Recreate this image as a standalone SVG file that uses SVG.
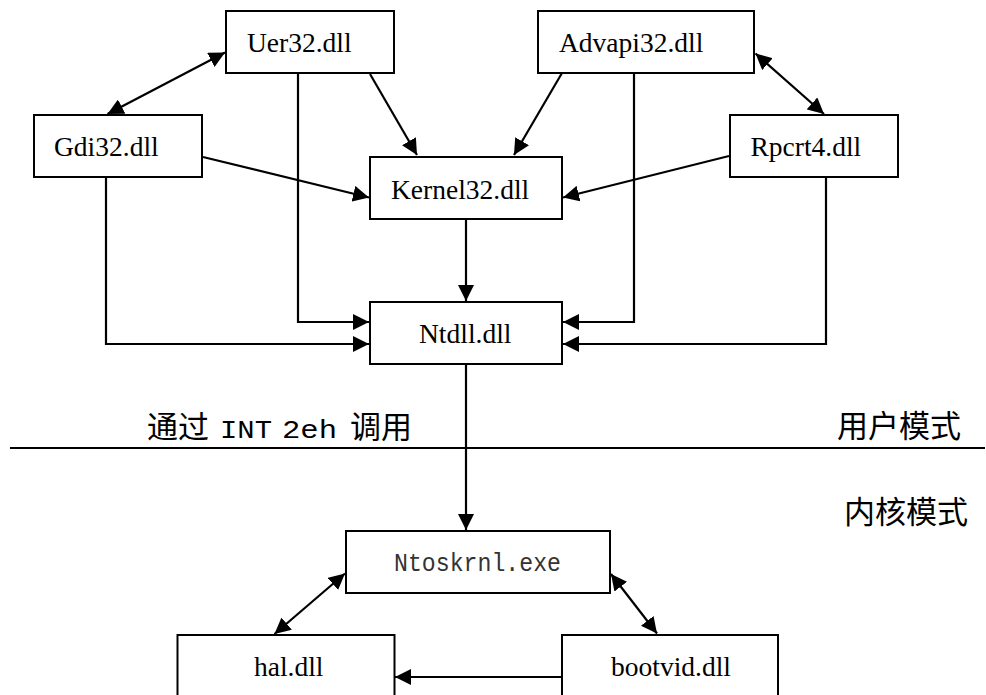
<svg xmlns="http://www.w3.org/2000/svg" width="986" height="695" viewBox="0 0 986 695">
<defs>
<style>
.box{fill:#fff;stroke:#000;stroke-width:2}
.lbl{font-family:"Liberation Serif","Times New Roman",serif;font-size:27.5px;fill:#000}
.mono{font-family:"Liberation Mono","Noto Sans CJK SC",monospace;fill:#333}
.cjk{font-family:"Noto Sans CJK SC",sans-serif;font-size:31px;fill:#000}
.ln{fill:none;stroke:#000;stroke-width:2.2}
.a{marker-end:url(#ah)}
.d{marker-end:url(#ah);marker-start:url(#ah)}
</style>
<marker id="ah" markerUnits="userSpaceOnUse" markerWidth="17" markerHeight="16" refX="16" refY="8" orient="auto-start-reverse" viewBox="0 0 17 16">
<path d="M0,0 L16,8 L0,16 z" fill="#000"/>
</marker>
</defs>
<g id="connectors">
<line class="ln d" x1="225" y1="52.5" x2="107.5" y2="114"/>
<line class="ln a" x1="370" y1="74" x2="417" y2="155"/>
<polyline class="ln a" points="298,73 298,322 369,322"/>
<line class="ln a" x1="203" y1="157" x2="369" y2="197.5"/>
<polyline class="ln a" points="106,177 106,344 369,344"/>
<line class="ln a" x1="466" y1="219" x2="466" y2="301"/>
<line class="ln a" x1="562" y1="73" x2="514" y2="155"/>
<polyline class="ln a" points="634,73 634,322 563,322"/>
<line class="ln d" x1="755.5" y1="53.5" x2="824" y2="114"/>
<line class="ln a" x1="729" y1="156" x2="563" y2="197.5"/>
<polyline class="ln a" points="826,177 826,344 563,344"/>
<line class="ln a" x1="466" y1="364" x2="466" y2="530"/>
<line class="ln" x1="10" y1="448" x2="985" y2="448" stroke-width="1.6"/>
<line class="ln d" x1="345" y1="573.5" x2="274.5" y2="634"/>
<line class="ln d" x1="611" y1="574" x2="657" y2="633.5"/>
<line class="ln a" x1="562" y1="677" x2="395" y2="677"/>
</g>
<g id="uer32"><rect class="box" x="226" y="11" width="168" height="62"/><text class="lbl" x="247" y="52">Uer32.dll</text></g>
<g id="advapi32"><rect class="box" x="538" y="11" width="216" height="62"/><text class="lbl" x="559" y="52">Advapi32.dll</text></g>
<g id="gdi32"><rect class="box" x="34" y="115" width="168" height="62"/><text class="lbl" x="54" y="156">Gdi32.dll</text></g>
<g id="rpcrt4"><rect class="box" x="730" y="115" width="168" height="62"/><text class="lbl" x="750.5" y="156">Rpcrt4.dll</text></g>
<g id="kernel32"><rect class="box" x="370" y="157" width="192" height="62"/><text class="lbl" x="391" y="199">Kernel32.dll</text></g>
<g id="ntdll"><rect class="box" x="370" y="302" width="192" height="62"/><text class="lbl" x="419" y="343">Ntdll.dll</text></g>
<g id="label-int"><text y="438" font-size="31"><tspan class="cjk" x="147">通过</tspan><tspan class="mono" style="fill:#000" x="220" font-size="26" textLength="52" lengthAdjust="spacingAndGlyphs">INT</tspan><tspan class="mono" style="fill:#000" x="282" font-size="26" textLength="55" lengthAdjust="spacingAndGlyphs">2eh</tspan><tspan class="cjk" x="350">调用</tspan></text></g>
<g id="label-user"><text class="cjk" x="837" y="437" textLength="124" lengthAdjust="spacingAndGlyphs">用户模式</text></g>
<g id="label-kernel"><text class="cjk" x="844" y="523" textLength="124" lengthAdjust="spacingAndGlyphs">内核模式</text></g>
<g id="ntoskrnl"><rect class="box" x="346" y="531" width="264" height="62"/><text class="mono" x="394" y="571" font-size="26" textLength="167" lengthAdjust="spacingAndGlyphs">Ntoskrnl.exe</text></g>
<g id="hal"><rect class="box" x="177.5" y="635" width="217" height="70"/><text class="lbl" x="254" y="676">hal.dll</text></g>
<g id="bootvid"><rect class="box" x="562" y="635" width="216" height="70"/><text class="lbl" x="611" y="676">bootvid.dll</text></g>
</svg>
